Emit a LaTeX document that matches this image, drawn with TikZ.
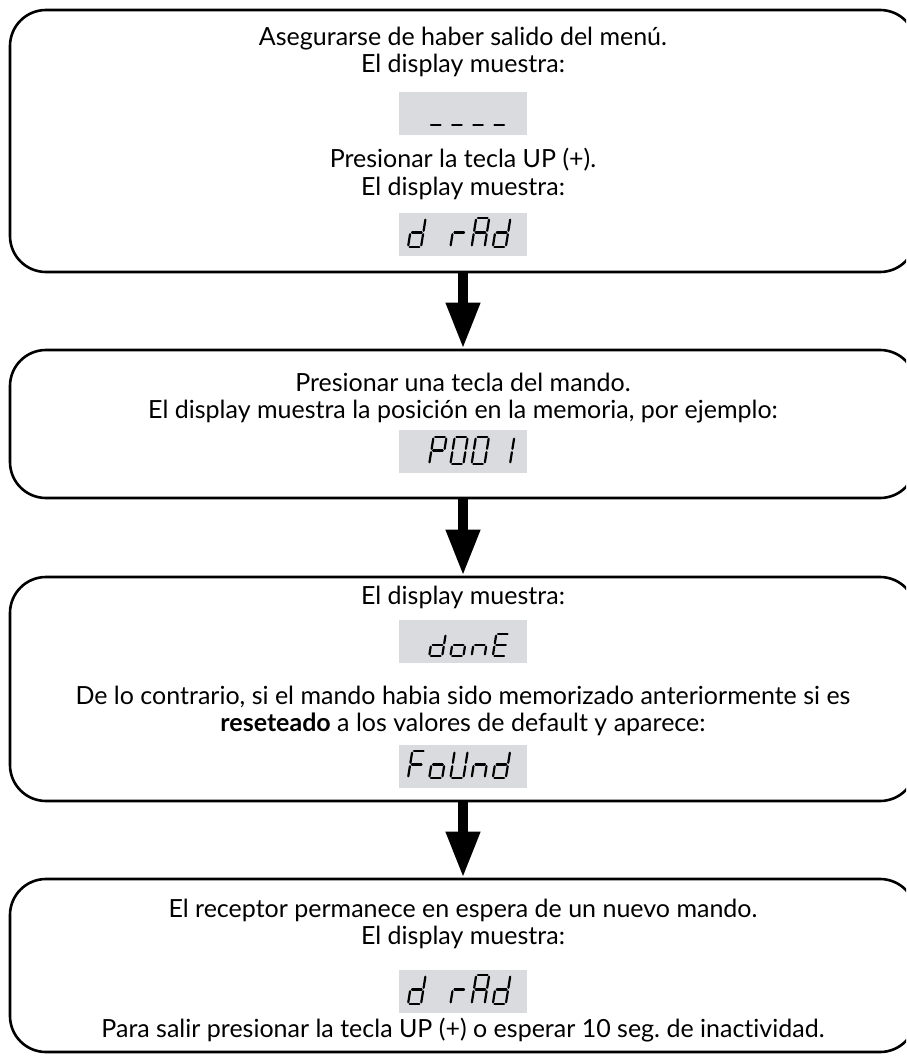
\documentclass[tikz,border=0pt]{standalone}
\usepackage{fontspec}
\setmainfont[RawFeature=-liga]{Lato}
\usetikzlibrary{arrows.meta}
\frenchspacing
\definecolor{dispgray}{HTML}{D9DBDE}
\tikzset{
  flowbox/.style={draw=black, line width=2.6pt, rounded corners=36pt, minimum width=906pt, inner sep=0pt},
  disp/.style={fill=dispgray, minimum width=128pt, minimum height=43pt, inner sep=0pt},
  txt/.style={anchor=base, inner sep=0pt, font=\fontsize{25}{30}\selectfont},
  bigarrow/.style={line width=10pt, -{Triangle[length=46pt,width=32pt]}},
  segline/.style={line width=2.2pt, line cap=round},
}
\def\ssw{13}
\def\ssgap{1.7}
\newcommand{\ssdraw}[2]{%
  \if#1a\draw[segline] (\ssgap,#2) -- (\ssw-\ssgap,#2);\fi
  \if#1b\draw[segline] (\ssw,#2-\ssgap) -- (\ssw,#2/2+\ssgap);\fi
  \if#1c\draw[segline] (\ssw,#2/2-\ssgap) -- (\ssw,\ssgap);\fi
  \if#1d\draw[segline] (\ssgap,0) -- (\ssw-\ssgap,0);\fi
  \if#1e\draw[segline] (0,\ssgap) -- (0,#2/2-\ssgap);\fi
  \if#1f\draw[segline] (0,#2/2+\ssgap) -- (0,#2-\ssgap);\fi
  \if#1g\draw[segline] (\ssgap,#2/2) -- (\ssw-\ssgap,#2/2);\fi
}
\newcommand{\ssglyph}[4]{%
  \begin{scope}[shift={(#1,#2)}, y=1pt, xslant=0.16]
    \foreach \sg in {#4}{\ssdraw{\sg}{#3}}
  \end{scope}}
\begin{document}
\begin{tikzpicture}[x=1pt,y=-1pt]
\useasboundingbox (0,0) rectangle (906,1062);
\clip (0,0) rectangle (906,1062);
% boxes
\node[flowbox, minimum height=262pt] (b1) at (463,141) {};
\node[flowbox, minimum height=148pt] (b2) at (463,424) {};
\node[flowbox, minimum height=224pt] (b3) at (463,689) {};
\node[flowbox, minimum height=173pt] (b4) at (463,965.5) {};
% arrows
\draw[bigarrow] (b1.south) -- (b2.north);
\draw[bigarrow] (b2.south) -- (b3.north);
\draw[bigarrow] (b3.south) -- (b4.north);
% box 1
\node[txt] (t11) at (463,46) {Asegurarse de haber salido del menú.};
\node[txt] (t12) at (463,73) {El display muestra:};
\node[disp] (d1) at (463,113.5) {};
\foreach \cx in {429.2,450.4,471.6,492.8}{\ssglyph{\cx}{125}{29}{d}}
\node[txt] (t13) at (463,167) {Presionar la tecla UP (+).};
\node[txt] (t14) at (463,195) {El display muestra:};
\node[disp] (d2) at (463,234.5) {};
\ssglyph{408}{247}{29}{b,c,d,e,g}
\ssglyph{450.4}{247}{29}{e,g}
\ssglyph{471.6}{247}{29}{a,b,c,e,f,g}
\ssglyph{492.8}{247}{29}{b,c,d,e,g}
% box 2
\node[txt] (t21) at (463,391) {Presionar una tecla del mando.};
\node[txt] (t22) at (463,418) {El display muestra la posición en la memoria, por ejemplo:};
\node[disp] (d3) at (463,451.5) {};
\ssglyph{429.2}{464}{27}{a,b,e,f,g}
\ssglyph{450.4}{464}{27}{a,b,c,d,e,f}
\ssglyph{471.6}{464}{27}{a,b,c,d,e,f}
\ssglyph{497}{464}{27}{b,c}
% box 3
\node[txt] (t31) at (463,604) {El display muestra:};
\node[disp] (d4) at (463,641) {};
\ssglyph{429.2}{656}{22}{b,c,d,e,g}
\ssglyph{450.4}{656}{22}{c,d,e,g}
\ssglyph{471.6}{656}{22}{c,e,g}
\ssglyph{492.8}{656}{22}{a,d,e,f,g}
\node[txt] (t32) at (463,704) {De lo contrario, si el mando habia sido memorizado anteriormente si es};
\node[txt] (t33) at (463,731) {\textbf{reseteado} a los valores de default y aparece:};
\node[disp] (d5) at (463,766.5) {};
\ssglyph{408}{778}{27}{a,e,f,g}
\ssglyph{429.2}{778}{27}{c,d,e,g}
\ssglyph{450.4}{778}{27}{b,c,d,e,f}
\ssglyph{471.6}{778}{27}{c,e,g}
\ssglyph{492.8}{778}{27}{b,c,d,e,g}
% box 4
\node[txt] (t41) at (463,917) {El receptor permanece en espera de un nuevo mando.};
\node[txt] (t42) at (463,944) {El display muestra:};
\node[disp] (d6) at (463,991.5) {};
\ssglyph{408}{1004}{29}{b,c,d,e,g}
\ssglyph{450.4}{1004}{29}{e,g}
\ssglyph{471.6}{1004}{29}{a,b,c,e,f,g}
\ssglyph{492.8}{1004}{29}{b,c,d,e,g}
\node[txt] (t43) at (463,1037) {Para salir presionar la tecla UP (+) o esperar 10 seg. de inactividad.};
\end{tikzpicture}
\end{document}
